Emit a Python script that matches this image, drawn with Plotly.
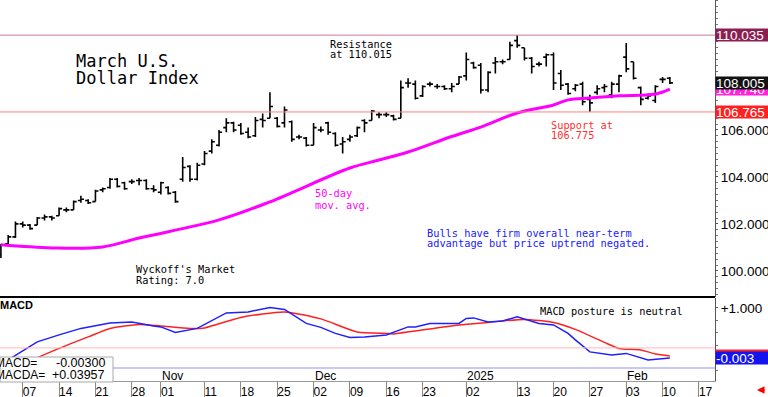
import plotly.graph_objects as go

# ---------------- data ----------------
dates = [
    "2024-10-02", "2024-10-03", "2024-10-04", "2024-10-07", "2024-10-08", "2024-10-09", "2024-10-10",
    "2024-10-11", "2024-10-14", "2024-10-15", "2024-10-16", "2024-10-17", "2024-10-18", "2024-10-21",
    "2024-10-22", "2024-10-23", "2024-10-24", "2024-10-25", "2024-10-28", "2024-10-29", "2024-10-30",
    "2024-10-31", "2024-11-01", "2024-11-04", "2024-11-05", "2024-11-06", "2024-11-07", "2024-11-08",
    "2024-11-11", "2024-11-12", "2024-11-13", "2024-11-14", "2024-11-15", "2024-11-18", "2024-11-19",
    "2024-11-20", "2024-11-21", "2024-11-22", "2024-11-25", "2024-11-26", "2024-11-27", "2024-11-28",
    "2024-11-29", "2024-12-02", "2024-12-03", "2024-12-04", "2024-12-05", "2024-12-06", "2024-12-09",
    "2024-12-10", "2024-12-11", "2024-12-12", "2024-12-13", "2024-12-16", "2024-12-17", "2024-12-18",
    "2024-12-19", "2024-12-20", "2024-12-23", "2024-12-24", "2024-12-26", "2024-12-27", "2024-12-30",
    "2024-12-31", "2025-01-02", "2025-01-03", "2025-01-06", "2025-01-07", "2025-01-08", "2025-01-09",
    "2025-01-10", "2025-01-13", "2025-01-14", "2025-01-15", "2025-01-16", "2025-01-17", "2025-01-20",
    "2025-01-21", "2025-01-22", "2025-01-23", "2025-01-24", "2025-01-27", "2025-01-28", "2025-01-29",
    "2025-01-30", "2025-01-31", "2025-02-03", "2025-02-04", "2025-02-05", "2025-02-06", "2025-02-07",
    "2025-02-10", "2025-02-11",
]
opens = [
    100.70, 101.15, 101.45, 102.00, 101.95, 101.95, 102.25, 102.30, 102.35, 102.60, 102.60, 103.00,
    103.00, 102.95, 103.45, 103.55, 103.90, 103.75, 103.80, 103.85, 103.85, 103.50, 103.35, 103.55,
    103.35, 103.90, 104.45, 103.90, 104.55, 105.10, 105.35, 106.10, 106.30, 106.20, 105.90, 105.75,
    106.45, 106.50, 106.50, 106.30, 106.35, 105.70, 105.65, 105.35, 106.00, 106.30, 105.85, 105.40,
    105.60, 105.75, 106.40, 106.40, 106.65, 106.65, 106.60, 106.50, 108.00, 107.95, 107.45, 107.95,
    107.85, 107.85, 107.75, 107.95, 108.30, 108.85, 108.75, 107.70, 108.85, 108.90, 109.00, 109.80,
    109.50, 109.05, 108.80, 109.10, 109.20, 108.40, 107.95, 107.75, 107.95, 107.30, 107.60, 107.80,
    107.50, 107.95, 109.10, 108.90, 107.80, 107.35, 107.25, 108.15, 108.20,
]
highs = [
    101.15, 101.53, 102.10, 102.10, 102.00, 102.30, 102.40, 102.35, 102.70, 102.70, 103.00, 103.20,
    103.05, 103.45, 103.55, 103.95, 103.95, 103.80, 103.90, 103.95, 103.90, 103.65, 103.80, 103.60,
    103.40, 104.85, 104.50, 104.60, 105.10, 105.60, 106.00, 106.50, 106.35, 106.30, 106.10, 106.55,
    106.70, 107.60, 106.55, 107.00, 106.40, 105.80, 105.70, 106.30, 106.15, 106.35, 105.90, 105.70,
    105.80, 106.15, 106.45, 106.85, 106.75, 106.75, 106.65, 108.10, 108.20, 108.10, 107.90, 108.05,
    107.95, 107.90, 108.00, 108.30, 109.30, 108.90, 108.85, 108.50, 109.10, 109.00, 109.75, 110.03,
    109.50, 109.10, 108.90, 109.25, 109.30, 108.55, 108.00, 107.95, 108.05, 107.50, 107.90, 107.95,
    108.05, 108.35, 109.70, 108.90, 107.85, 107.55, 107.90, 108.25, 108.25,
]
lows = [
    100.55, 101.15, 101.40, 101.85, 101.75, 101.95, 102.15, 102.15, 102.35, 102.50, 102.60, 102.90,
    102.85, 102.95, 103.35, 103.50, 103.55, 103.45, 103.70, 103.65, 103.45, 103.35, 103.25, 103.25,
    102.90, 103.80, 103.80, 103.85, 104.50, 105.00, 105.30, 105.90, 105.90, 105.80, 105.65, 105.70,
    106.10, 106.50, 106.10, 106.10, 105.50, 105.60, 105.30, 105.35, 105.90, 105.80, 105.30, 105.00,
    105.50, 105.70, 105.90, 106.40, 106.50, 106.55, 106.40, 106.50, 107.80, 107.30, 107.40, 107.85,
    107.75, 107.70, 107.60, 107.95, 108.10, 108.60, 107.55, 107.60, 108.40, 108.80, 109.00, 109.50,
    108.95, 108.40, 108.70, 108.70, 107.70, 107.70, 107.50, 107.65, 107.05, 106.77, 107.50, 107.60,
    107.35, 107.60, 108.45, 108.15, 107.05, 107.30, 107.15, 108.00, 107.95,
]
closes = [
    101.10, 101.45, 102.00, 101.95, 101.80, 102.25, 102.30, 102.25, 102.65, 102.60, 102.95, 103.05,
    102.90, 103.40, 103.50, 103.90, 103.60, 103.50, 103.80, 103.85, 103.50, 103.45, 103.75, 103.30,
    102.95, 104.40, 103.90, 104.50, 105.00, 105.50, 105.90, 106.30, 106.00, 105.85, 105.70, 106.40,
    106.40, 107.00, 106.15, 106.85, 105.60, 105.70, 105.35, 106.10, 106.00, 105.90, 105.35, 105.50,
    105.70, 106.10, 106.30, 106.80, 106.65, 106.65, 106.45, 107.80, 108.00, 107.35, 107.85, 107.95,
    107.85, 107.75, 107.85, 108.25, 109.00, 108.65, 107.70, 108.45, 108.90, 108.90, 109.60, 109.60,
    109.05, 108.70, 108.80, 109.20, 108.00, 107.90, 107.55, 107.90, 107.20, 107.15, 107.75, 107.85,
    107.95, 108.30, 108.60, 108.20, 107.30, 107.45, 107.85, 108.15, 108.005,
]

# 50-day moving average, read at sample dates
ma_dates = ["2024-10-02", "2024-10-11", "2024-10-22", "2024-10-29", "2024-11-13", "2024-11-22",
            "2024-12-09", "2024-12-13", "2024-12-19", "2024-12-30", "2025-01-06", "2025-01-13",
            "2025-01-20", "2025-01-22", "2025-01-27", "2025-01-31", "2025-02-07", "2025-02-11"]
ma_vals = [101.11, 100.98, 101.02, 101.40, 102.17, 102.94, 104.38, 104.72, 105.06, 105.72,
           106.12, 106.72, 107.06, 107.28, 107.36, 107.45, 107.53, 107.74]

# MACD (blue) and MACDA (red), read at sample dates
macd_dates = ["2024-10-02", "2024-10-04", "2024-10-09", "2024-10-14", "2024-10-17", "2024-10-23",
              "2024-10-28", "2024-10-31", "2024-11-01", "2024-11-05", "2024-11-07", "2024-11-08",
              "2024-11-14", "2024-11-19", "2024-11-22", "2024-11-26", "2024-11-29", "2024-12-03",
              "2024-12-05", "2024-12-09", "2024-12-11", "2024-12-16", "2024-12-19", "2024-12-20",
              "2024-12-24", "2024-12-31", "2025-01-02", "2025-01-03", "2025-01-07", "2025-01-09",
              "2025-01-13", "2025-01-16", "2025-01-20", "2025-01-22", "2025-01-23", "2025-01-27",
              "2025-01-30", "2025-02-03", "2025-02-06", "2025-02-10", "2025-02-11"]
macd_vals = [-0.13, 0.05, 0.32, 0.46, 0.59, 0.70, 0.72, 0.64, 0.62, 0.51, 0.57, 0.59, 0.90, 0.92,
             1.01, 0.97, 0.69, 0.61, 0.49, 0.41, 0.42, 0.46, 0.62, 0.62, 0.69, 0.69, 0.79, 0.80,
             0.72, 0.74, 0.82, 0.69, 0.66, 0.49, 0.36, 0.12, 0.06, 0.09, -0.04, -0.01, -0.003]
macda_dates = ["2024-10-02", "2024-10-09", "2024-10-14", "2024-10-18", "2024-10-23", "2024-10-29",
               "2024-11-01", "2024-11-07", "2024-11-11", "2024-11-18", "2024-11-26", "2024-12-03",
               "2024-12-10", "2024-12-16", "2024-12-17", "2024-12-20", "2024-12-31", "2025-01-07",
               "2025-01-14", "2025-01-20", "2025-01-23", "2025-01-29", "2025-01-31", "2025-02-05",
               "2025-02-07", "2025-02-11"]
macda_vals = [-0.40, 0.00, 0.19, 0.42, 0.59, 0.67, 0.64, 0.59, 0.60, 0.81, 0.92, 0.78, 0.52, 0.49,
              0.48, 0.54, 0.66, 0.71, 0.77, 0.71, 0.57, 0.31, 0.19, 0.16, 0.08, 0.04]

date_tick_vals = ["2024-10-07", "2024-10-14", "2024-10-21", "2024-10-28", "2024-11-01", "2024-11-11",
                  "2024-11-18", "2024-11-25", "2024-12-02", "2024-12-09", "2024-12-16", "2024-12-23",
                  "2025-01-02", "2025-01-13", "2025-01-20", "2025-01-27", "2025-02-03", "2025-02-10",
                  "2025-02-17"]
date_tick_text = ["07", "14", "21", "28", "01", "11", "18", "25", "02", "09", "16", "23",
                  "02", "13", "20", "27", "03", "10", "17"]
month_dates = ["2024-11-01", "2024-12-02", "2025-01-02", "2025-02-03"]
month_text = ["Nov", "Dec", "2025", "Feb"]

price_ticks = [100, 102, 104, 106, 108, 110]
resistance = 110.035
support = 106.765
last_close = 108.005
last_ma = 107.740
last_macd = -0.003
last_macda = 0.03957

# ---------------- layout helpers ----------------
W, H = 768, 397
XR = 715 / W
MONO = "DejaVu Sans Mono"
SANS = "Liberation Sans"


def py(px):
    return 1 - px / H


breaks = [dict(bounds=["sat", "mon"]), dict(values=["2024-12-25", "2025-01-01"])]
xrange_ = ["2024-10-01 21:00", "2025-02-19 05:00"]

fig = go.Figure()

fig.add_trace(go.Ohlc(
    x=dates, open=opens, high=highs, low=lows, close=closes,
    increasing=dict(line=dict(color="black", width=1.6)),
    decreasing=dict(line=dict(color="black", width=1.6)),
    tickwidth=0.42, xaxis="x", yaxis="y", hoverinfo="skip",
))
fig.add_trace(go.Scatter(
    x=ma_dates, y=ma_vals, mode="lines", line=dict(color="#ff00ff", width=3, shape="spline", smoothing=1.0),
    xaxis="x", yaxis="y", hoverinfo="skip",
))
fig.add_trace(go.Scatter(
    x=macda_dates, y=macda_vals, mode="lines", line=dict(color="#ff2020", width=1.5, shape="spline", smoothing=0.6),
    xaxis="x2", yaxis="y2", hoverinfo="skip",
))
fig.add_trace(go.Scatter(
    x=macd_dates, y=macd_vals, mode="lines", line=dict(color="#1f1fff", width=1.5),
    xaxis="x2", yaxis="y2", hoverinfo="skip",
))
# invisible trace to hold the date strip axis
fig.add_trace(go.Scatter(x=dates[:1], y=[0.5], mode="markers", marker=dict(opacity=0),
                         xaxis="x3", yaxis="y3", hoverinfo="skip"))

common_x = dict(domain=[0, XR], range=xrange_, rangebreaks=breaks, showgrid=False,
                zeroline=False, automargin=False, rangeslider=dict(visible=False))

fig.update_layout(
    width=W, height=H, margin=dict(l=0, r=0, t=0, b=0, autoexpand=False),
    paper_bgcolor="white", plot_bgcolor="white", showlegend=False,
    font=dict(family=SANS, color="black"),
    xaxis=dict(**common_x, anchor="y", showticklabels=False, ticks="", showline=False),
    xaxis2=dict(**common_x, anchor="y2", matches="x", showticklabels=False, ticks="",
                showline=True, linecolor="#9a9a9a", linewidth=1),
    xaxis3=dict(domain=[0, XR], range=xrange_, rangebreaks=breaks, zeroline=False,
                anchor="y3", matches="x", side="top", automargin=False,
                tickmode="array", tickvals=date_tick_vals, ticktext=date_tick_text,
                ticklabelposition="inside right", ticks="", showline=False,
                showgrid=True, gridcolor="#8a8a8a", gridwidth=1,
                tickfont=dict(family=SANS, size=12, color="black")),
    yaxis=dict(domain=[py(297), 1], range=[98.89, 111.53], side="right", anchor="x",
               tickmode="array", tickvals=price_ticks, ticktext=[f"{v:.3f}" for v in price_ticks],
               ticks="outside", ticklen=2, tickcolor="#555", automargin=False,
               minor=dict(dtick=0.25, ticks="outside", ticklen=2, tickcolor="#777"),
               showline=True, linecolor="#555", linewidth=1, showgrid=False, zeroline=False,
               tickfont=dict(family=SANS, size=13.5, color="black")),
    yaxis2=dict(domain=[py(381), py(298)], range=[-0.462, 1.198], side="right", anchor="x2",
                tickmode="array", tickvals=[1.0], ticktext=["+1.000"], automargin=False,
                ticks="outside", ticklen=2, tickcolor="#555",
                minor=dict(dtick=0.25, ticks="outside", ticklen=2, tickcolor="#777"),
                showline=True, linecolor="#555", linewidth=1, showgrid=False, zeroline=False,
                tickfont=dict(family=SANS, size=13.5, color="black")),
    yaxis3=dict(domain=[0, py(382)], range=[0, 1], anchor="x3", visible=False, automargin=False),
)

shapes = [
    dict(type="line", xref="paper", x0=0, x1=XR, yref="y", y0=resistance, y1=resistance,
         line=dict(color="#cc7799", width=1)),
    dict(type="line", xref="paper", x0=0, x1=XR, yref="y", y0=support, y1=support,
         line=dict(color="#ff7f7f", width=1)),
    dict(type="line", xref="paper", x0=0, x1=XR, yref="y2", y0=0.2, y1=0.2,
         line=dict(color="#ffb8b8", width=1)),
    dict(type="line", xref="paper", x0=0, x1=XR, yref="y2", y0=-0.2, y1=-0.2,
         line=dict(color="#c8c8f4", width=2)),
    dict(type="line", xref="paper", x0=0, x1=XR, yref="paper", y0=py(297), y1=py(297),
         line=dict(color="black", width=2)),
    dict(type="rect", xref="paper", x0=0, x1=113 / W, yref="paper", y0=py(382), y1=py(357),
         fillcolor="white", line=dict(color="#a8a8a8", width=1), layer="above"),
]
fig.update_layout(shapes=shapes)

ann = []


def txt(text, xpx, ypx, size, color="black", family=MONO, xanchor="left"):
    ann.append(dict(text=text, xref="paper", yref="paper", x=xpx / W, y=py(ypx),
                    xanchor=xanchor, yanchor="middle", showarrow=False,
                    font=dict(family=family, size=size, color=color)))


txt("March U.S.", 74, 61, 17)
txt("Dollar Index", 74, 78, 17)
txt("Resistance", 328, 44, 10.3)
txt("at 110.015", 328, 54, 10.3)
txt("Support at", 549, 125, 10.3, "#ff3030")
txt("106.775", 549, 135, 10.3, "#ff3030")
txt("50-day", 313, 193, 10.3, "#ff00ff")
txt("mov. avg.", 313, 205, 10.3, "#ff00ff")
txt("Bulls have firm overall near-term", 425, 233, 10.3, "#2020ff")
txt("advantage but price uptrend negated.", 425, 243, 10.3, "#2020ff")
txt("Wyckoff's Market", 134, 269, 10.3)
txt("Rating: 7.0", 134, 280, 10.3)
txt("MACD posture is neutral", 538, 311, 10.3)
txt("<b>MACD</b>", -2, 305, 11, family=SANS)
txt("MACD=", -7, 363, 12, family=SANS)
txt(f"{last_macd:+.5f}", 107, 363, 12.5, family=SANS, xanchor="right")
txt("MACDA=", -7, 375, 12, family=SANS)
txt(f"{last_macda:+.5f}", 107, 375, 12.5, family=SANS, xanchor="right")

for d, t in zip(month_dates, month_text):
    ann.append(dict(text=t, xref="x3", yref="paper", x=d, y=py(376), xanchor="left",
                    yanchor="middle", xshift=-1, showarrow=False,
                    font=dict(family=SANS, size=12, color="black")))


def label(text, yval, yref, bg):
    ann.append(dict(text=text, xref="paper", x=XR, xanchor="left", yref=yref, y=yval,
                    yanchor="middle", showarrow=False, bgcolor=bg, borderpad=0,
                    width=53, height=12, align="left",
                    font=dict(family=SANS, size=13.5, color="white")))


label(f"{resistance:.3f}", resistance, "y", "#8b1f4f")
label(f"{last_ma:.3f}", last_ma, "y", "#ff22dd")
label(f"{last_close:.3f}", last_close, "y", "#111111")
label(f"{support:.3f}", support, "y", "#ff2020")
label(f"{last_macda:+.3f}", last_macda, "y2", "#ff2020")
label(f"{last_macd:.3f}", last_macd, "y2", "#1414ee")

ann.append(dict(text="", xref="paper", yref="paper", x=757 / W, y=py(390), ax=9, ay=0,
                showarrow=True, arrowhead=2, arrowsize=0.6, arrowwidth=2.5, arrowcolor="#ff0000"))

fig.update_layout(annotations=ann)

fig.write_html(
    "out.html",
    config={"displayModeBar": False},
    post_script="document.body.style.margin='0';document.body.style.padding='0';"
                "document.documentElement.style.overflow='hidden';",
)
